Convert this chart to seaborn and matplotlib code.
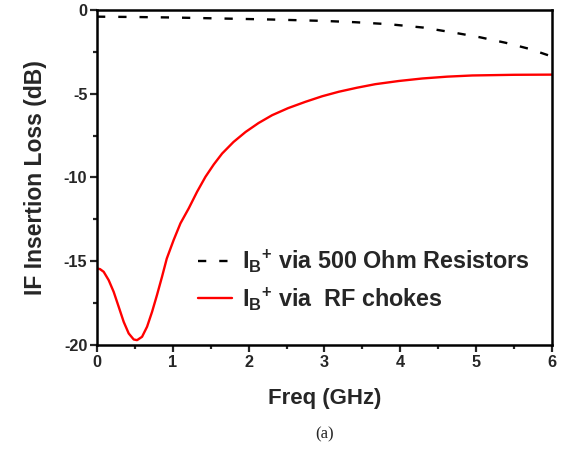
import matplotlib
matplotlib.use("Agg")
import matplotlib.pyplot as plt
import seaborn as sns
import pandas as pd
from matplotlib.ticker import MultipleLocator
from matplotlib.lines import Line2D

# Data
freq_res = [0.0, 0.5, 1.0, 1.65, 2.3, 2.97, 3.4, 3.85, 4.3, 4.73, 5.05, 5.39, 5.7, 6.0]
loss_res = [-0.40, -0.42, -0.45, -0.51, -0.57, -0.65, -0.73, -0.85, -1.05, -1.37, -1.63, -1.96, -2.32, -2.78]

freq_rf = [0.0, 0.04, 0.088, 0.154, 0.22, 0.286, 0.352, 0.418, 0.484, 0.528, 0.594, 0.66, 0.726,
           0.79, 0.857, 0.92, 1.01, 1.10, 1.21, 1.32, 1.43, 1.54, 1.65, 1.8, 1.96, 2.13, 2.31, 2.52,
           2.75, 2.97, 3.19, 3.43, 3.67, 3.98, 4.29, 4.62, 4.95, 5.5, 6.0]
loss_rf = [-15.43, -15.47, -15.63, -16.13, -16.83, -17.72, -18.62, -19.31, -19.67, -19.71, -19.51,
           -18.91, -18.02, -17.03, -15.93, -14.84, -13.74, -12.74, -11.84, -10.85, -9.96, -9.22,
           -8.57, -7.88, -7.28, -6.75, -6.28, -5.86, -5.48, -5.15, -4.88, -4.64, -4.43, -4.24,
           -4.09, -3.98, -3.91, -3.87, -3.86]

label_res = r"$\mathbf{I}_\mathbf{B}{}^\mathbf{+}$ via 500 Ohm Resistors"
label_rf = r"$\mathbf{I}_\mathbf{B}{}^\mathbf{+}$ via  RF chokes"
xlabel = "Freq (GHz)"
ylabel = "IF Insertion Loss (dB)"
caption = "(a)"

sns.set_style("white")
plt.rcParams["font.family"] = ["Liberation Sans", "DejaVu Sans"]
plt.rcParams["font.weight"] = "bold"
plt.rcParams["axes.unicode_minus"] = False
plt.rcParams["mathtext.fontset"] = "custom"
plt.rcParams["mathtext.rm"] = "Liberation Sans:bold"
plt.rcParams["mathtext.bf"] = "Liberation Sans:bold"
plt.rcParams["mathtext.it"] = "Liberation Sans:bold"

df_res = pd.DataFrame({"freq": freq_res, "loss": loss_res})
df_rf = pd.DataFrame({"freq": freq_rf, "loss": loss_rf})

fig = plt.figure(figsize=(5.68, 4.53), dpi=100)
ax = fig.add_axes([0.1708, 0.2384, 0.8010, 0.7396])

dash = (0, (3.5, 5.5))
sns.lineplot(data=df_res, x="freq", y="loss", ax=ax, color="black", lw=1.7,
             linestyle=dash, estimator=None, sort=True)
sns.lineplot(data=df_rf, x="freq", y="loss", ax=ax, color="#ff0000", lw=1.7,
             estimator=None, sort=True)

ax.set_xlim(0, 6)
ax.set_ylim(-20, 0)
ax.xaxis.set_major_locator(MultipleLocator(1))
ax.xaxis.set_minor_locator(MultipleLocator(0.5))
ax.yaxis.set_major_locator(MultipleLocator(5))
ax.yaxis.set_minor_locator(MultipleLocator(2.5))
ax.tick_params(which="major", direction="out", length=5, width=1.6, labelsize=11.7,
               bottom=True, left=True, top=False, right=False, pad=2)
ax.tick_params(which="minor", direction="out", length=3, width=1.6,
               bottom=True, left=True, top=False, right=False)
for lab in ax.get_xticklabels() + ax.get_yticklabels():
    lab.set_fontweight("bold")
for s in ax.spines.values():
    s.set_visible(True)
    s.set_linewidth(1.8)
    s.set_color("black")

ax.set_xlabel(xlabel, fontsize=16, fontweight="bold", labelpad=13)
ax.set_ylabel(ylabel, fontsize=16.5, fontweight="bold", labelpad=12)

handles = [Line2D([], [], color="black", lw=1.7, linestyle=dash),
           Line2D([], [], color="#ff0000", lw=1.7)]
ax.legend(handles, [label_res, label_rf], loc="upper left", bbox_to_anchor=(0.222, 0.29),
          frameon=False, prop={"size": 16.8, "weight": "bold"}, handlelength=1.45,
          handletextpad=0.43, labelspacing=0.45, borderpad=0, borderaxespad=0)

fig.text(0.572, 0.04, caption, ha="center", va="center", fontsize=12,
         family=["Liberation Serif", "DejaVu Serif"], fontweight="normal")

fig.savefig("out.png", dpi=100)
